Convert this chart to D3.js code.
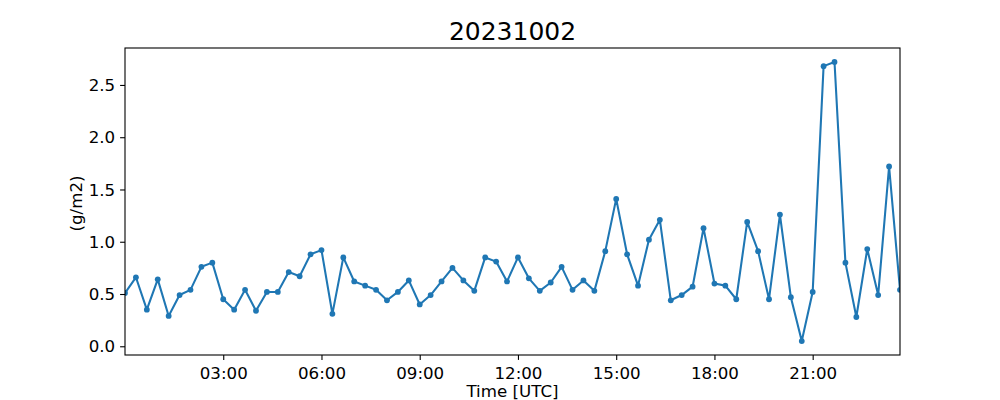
<!DOCTYPE html>
<html>
<head>
<meta charset="utf-8">
<script src="https://cdn.jsdelivr.net/npm/d3@7"></script>
<style>
  html, body { margin: 0; padding: 0; background: #fff; }
  svg { display: block; font-family: "DejaVu Sans", sans-serif; }
</style>
</head>
<body>
<svg id="chart" width="1000" height="400"></svg>
<script>
// ---- data ----
const title = "20231002";
const xLabel = "Time [UTC]";
const yLabel = "(g/m2)";
const stepMinutes = 20; // sample spacing, starting 00:00
const values = [
  0.51, 0.66, 0.35, 0.64, 0.29, 0.49, 0.54, 0.76, 0.80, 0.45,
  0.35, 0.54, 0.34, 0.52, 0.52, 0.71, 0.67, 0.88, 0.92, 0.31,
  0.85, 0.62, 0.58, 0.54, 0.44, 0.52, 0.63, 0.40, 0.49, 0.62,
  0.75, 0.63, 0.53, 0.85, 0.81, 0.62, 0.85, 0.65, 0.53, 0.61,
  0.76, 0.54, 0.63, 0.53, 0.91, 1.41, 0.88, 0.58, 1.02, 1.21,
  0.44, 0.49, 0.57, 1.13, 0.60, 0.58, 0.45, 1.19, 0.91, 0.45,
  1.26, 0.47, 0.05, 0.52, 2.68, 2.72, 0.80, 0.28, 0.93, 0.49,
  1.72, 0.54
];
const xTickHours = [3, 6, 9, 12, 15, 18, 21];
const xTickLabels = ["03:00", "06:00", "09:00", "12:00", "15:00", "18:00", "21:00"];
const yTicks = [0.0, 0.5, 1.0, 1.5, 2.0, 2.5];

// ---- layout ----
const W = 1000, H = 400;
const m = { left: 125, right: 100, top: 48, bottom: 45 };
const iw = W - m.left - m.right, ih = H - m.top - m.bottom;
const color = "#1f77b4";
const tickFs = 16.67;

const data = values.map((v, i) => ({ h: i * stepMinutes / 60, v }));

const x = d3.scaleLinear()
  .domain(d3.extent(data, d => d.h))
  .range([m.left, m.left + iw]);

const vmin = d3.min(values), vmax = d3.max(values);
const pad = (vmax - vmin) * 0.05;
const y = d3.scaleLinear()
  .domain([vmin - pad, vmax + pad])
  .range([m.top + ih, m.top]);

const svg = d3.select("#chart");

svg.append("defs").append("clipPath").attr("id", "clip")
  .append("rect").attr("x", m.left).attr("y", m.top).attr("width", iw).attr("height", ih);

// line + markers
const g = svg.append("g").attr("clip-path", "url(#clip)");
g.append("path")
  .datum(data)
  .attr("fill", "none")
  .attr("stroke", color)
  .attr("stroke-width", 2.08)
  .attr("stroke-linejoin", "round")
  .attr("stroke-linecap", "square")
  .attr("d", d3.line().x(d => x(d.h)).y(d => y(d.v)));
g.selectAll("circle").data(data).join("circle")
  .attr("cx", d => x(d.h)).attr("cy", d => y(d.v))
  .attr("r", 2.9).attr("fill", color);

// axes
const xAxis = d3.axisBottom(x)
  .tickValues(xTickHours)
  .tickFormat((d, i) => xTickLabels[i])
  .tickSize(4.9).tickPadding(4.9);
const xg = svg.append("g").attr("transform", `translate(0,${m.top + ih})`).call(xAxis);

const yAxis = d3.axisLeft(y)
  .tickValues(yTicks)
  .tickFormat(d3.format(".1f"))
  .tickSize(4.9).tickPadding(4.9);
const yg = svg.append("g").attr("transform", `translate(${m.left},0)`).call(yAxis);

[xg, yg].forEach(a => {
  a.select(".domain").remove();
  a.selectAll(".tick line").attr("stroke", "#000").attr("stroke-width", 1.1);
  a.selectAll(".tick text").attr("fill", "#000")
    .style("font-size", tickFs + "px").style("font-family", "'DejaVu Sans', sans-serif");
});
xg.selectAll(".tick text").attr("dy", null).attr("y", 23.5);
yg.selectAll(".tick text").attr("dy", "0.34em");

// frame
svg.append("rect")
  .attr("x", m.left).attr("y", m.top).attr("width", iw).attr("height", ih)
  .attr("fill", "none").attr("stroke", "#000").attr("stroke-width", 1.1);

// labels
svg.append("text")
  .attr("x", m.left + iw / 2).attr("y", 39.5)
  .attr("text-anchor", "middle")
  .style("font-size", "25px")
  .text(title);

svg.append("text")
  .attr("x", m.left + iw / 2).attr("y", 396.5)
  .attr("text-anchor", "middle")
  .style("font-size", tickFs + "px")
  .text(xLabel);

svg.append("text")
  .attr("transform", `translate(81.5,${m.top + ih / 2 + 2}) rotate(-90)`)
  .attr("text-anchor", "middle")
  .style("font-size", tickFs + "px")
  .text(yLabel);
</script>
</body>
</html>
